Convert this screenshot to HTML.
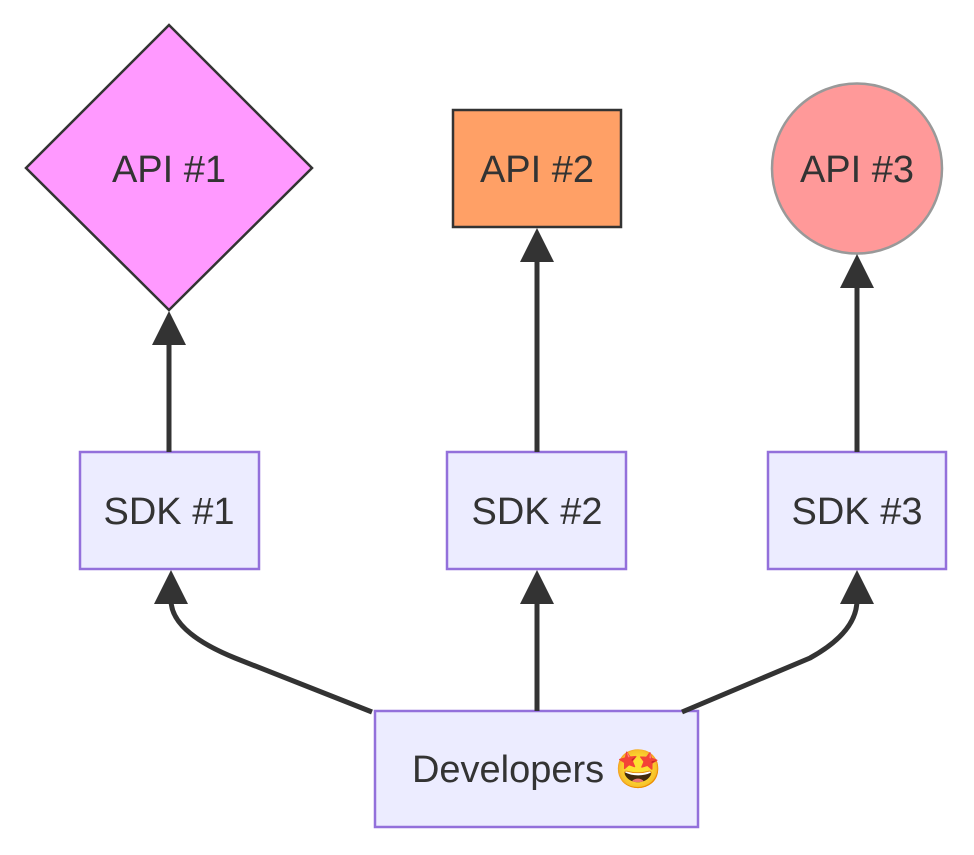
<!DOCTYPE html>
<html><head><meta charset="utf-8"><style>
html,body{margin:0;padding:0;background:#fff;}
svg{display:block;}
text{font-family:"Liberation Sans","DejaVu Sans",sans-serif;font-size:38px;fill:#333;text-anchor:middle;dominant-baseline:central;}
</style></head><body>
<svg width="974" height="855" viewBox="0 0 974 855" xmlns="http://www.w3.org/2000/svg">
<!-- shapes -->
<polygon points="169,25 312,168 169,310 26,168" fill="#ff99ff" stroke="#333" stroke-width="2.5"/>
<text x="169" y="170">API #1</text>
<rect x="453" y="110" width="168" height="117" fill="#ffa066" stroke="#333" stroke-width="2.5"/>
<text x="537" y="170">API #2</text>
<circle cx="857" cy="168.5" r="85" fill="#ff9999" stroke="#999" stroke-width="2.5"/>
<text x="857" y="170">API #3</text>

<g fill="#ececff" stroke="#9370db" stroke-width="2.5">
<rect x="80" y="452" width="179" height="117"/>
<rect x="447" y="452" width="179" height="117"/>
<rect x="768" y="452" width="178" height="117"/>
<rect x="375" y="711" width="323" height="116"/>
</g>
<text x="169" y="512">SDK #1</text>
<text x="537" y="512">SDK #2</text>
<text x="857" y="512">SDK #3</text>
<text x="537" y="770">Developers 🤩</text>

<!-- edges -->
<g stroke="#333" stroke-width="5" fill="none">
<line x1="169" y1="452" x2="169" y2="340"/>
<line x1="537" y1="452" x2="537" y2="255"/>
<line x1="857" y1="452" x2="857" y2="280"/>
<line x1="537" y1="711" x2="537" y2="598"/>
<path d="M372 712 L235 658 Q171 632 171 600"/>
<path d="M682 712 L810 658 Q857 632 857 600"/>
</g>
<g fill="#333">
<polygon points="169,311 152,345 186,345"/>
<polygon points="537,228 520,262 554,262"/>
<polygon points="857,254 840,288 874,288"/>
<polygon points="171,570 154,604 188,604"/>
<polygon points="537,570 520,604 554,604"/>
<polygon points="857,570 840,604 874,604"/>
</g>
</svg>
</body></html>
